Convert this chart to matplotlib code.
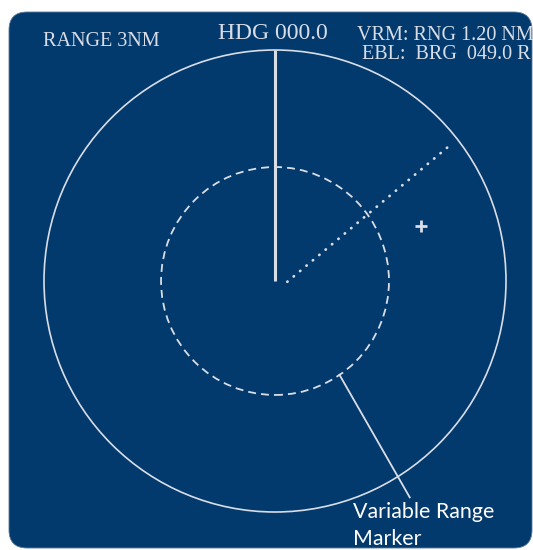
import numpy as np
import matplotlib
matplotlib.use("Agg")
import matplotlib.pyplot as plt
from matplotlib.patches import Circle, FancyBboxPatch

# ---- data (nautical-mile display units) ----
range_nm = 3.0            # outer range ring
vrm_radius = 1.48         # variable range marker ring (display)
heading_deg = 0.0
ebl_bearing_deg = 50.0
ebl_origin = (0.16, -0.01)
ebl_length = 2.77
target_xy = (1.89, 0.72)
label_texts = ["RANGE 3NM", "HDG 000.0", "VRM: RNG 1.20 NM", "EBL:  BRG  049.0 R"]
annotation_lines = ["Variable Range", "Marker"]
annot_bearing_deg = 145.5
annot_end = (1.75, -2.81)

BG = "#033a6e"
FG = "#d9dee6"

W, H, DPI = 533, 550, 100
px_per_nm = 77.0
cx, cy = 275.0, 281.0

fig = plt.figure(figsize=(W / DPI, H / DPI), dpi=DPI)
fig.patch.set_facecolor("white")
ax = fig.add_axes([0, 0, 1, 1])
ax.set_xlim(-cx / px_per_nm, (W - cx) / px_per_nm)
ax.set_ylim(-(H - cy) / px_per_nm, cy / px_per_nm)
ax.set_aspect("equal")
ax.axis("off")

def px2d(x, y):
    return ((x - cx) / px_per_nm, (cy - y) / px_per_nm)

# panel
x0, y1 = px2d(9, 12)
x1, y0 = px2d(532, 548)
pad = 18 / px_per_nm
panel = FancyBboxPatch((x0 + pad, y0 + pad), (x1 - x0) - 2 * pad, (y1 - y0) - 2 * pad,
                       boxstyle=f"round,pad={pad}", facecolor=BG, edgecolor="#5a7a99",
                       linewidth=0.6, zorder=0)
ax.add_patch(panel)

# outer ring
ax.add_patch(Circle((0, 0), range_nm, fill=False, edgecolor=FG, linewidth=1.2, zorder=2))
# VRM ring
ax.add_patch(Circle((0, 0), vrm_radius, fill=False, edgecolor=FG, linewidth=1.3,
                    linestyle=(0, (4.4, 2.8)), zorder=2))
# heading line
h = np.deg2rad(heading_deg)
ax.plot([0, range_nm * np.sin(h)], [0, range_nm * np.cos(h)], color=FG, lw=2.2,
        solid_capstyle="butt", zorder=3)
# EBL dotted
b = np.deg2rad(ebl_bearing_deg)
ax.plot([ebl_origin[0], ebl_origin[0] + ebl_length * np.sin(b)],
        [ebl_origin[1], ebl_origin[1] + ebl_length * np.cos(b)],
        color=FG, lw=2.0, linestyle=(0, (0.1, 2.9)), dash_capstyle="round", zorder=3)
# target
ax.plot([target_xy[0]], [target_xy[1]], marker="+", color=FG, markersize=9,
        markeredgewidth=2.0, zorder=3)
# annotation line
a = np.deg2rad(annot_bearing_deg)
ax.plot([vrm_radius * np.sin(a), annot_end[0]], [vrm_radius * np.cos(a), annot_end[1]],
        color=FG, lw=1.3, zorder=3)

serif = ["Liberation Serif", "DejaVu Serif"]
def fx(x): return x / W
def fy(y): return 1 - y / H

fig.text(fx(43), fy(46), label_texts[0], color=FG, fontsize=14.5, family=serif, va="baseline")
fig.text(fx(218), fy(39), label_texts[1], color=FG, fontsize=17, family=serif, va="baseline")
fig.text(fx(357), fy(40), label_texts[2], color=FG, fontsize=14.5, family=serif, va="baseline")
fig.text(fx(531), fy(59), label_texts[3], color=FG, fontsize=14.5, family=serif,
         va="baseline", ha="right")
for i, line in enumerate(annotation_lines):
    fig.text(fx(353), fy(518 + 27 * i), line, color="white", fontsize=15.4,
             family=["Lato", "DejaVu Sans"], va="baseline")

fig.savefig("out.png", dpi=DPI, facecolor="white")
